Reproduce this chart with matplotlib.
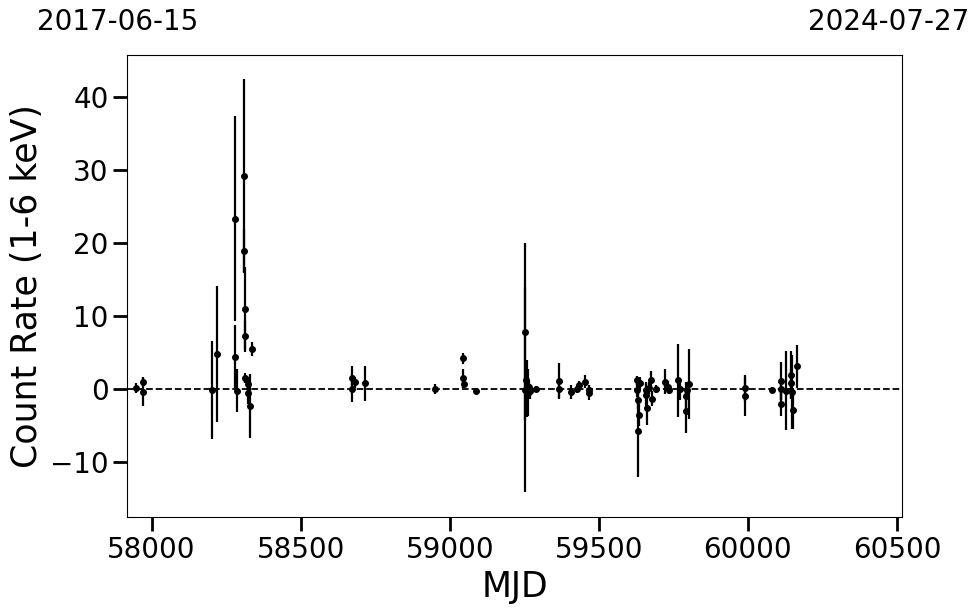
import numpy as np
import matplotlib.pyplot as plt

# data
mjd = np.array([57948, 57973, 57973,
                58204, 58221, 58281, 58281, 58286, 58310, 58311, 58313, 58313, 58337, 58313, 58322, 58322, 58331,
                58671, 58671, 58682, 58715,
                58951, 59045, 59045, 59048, 59087,
                59252, 59252, 59257, 59258, 59262, 59266, 59270, 59291,
                59367, 59367, 59408, 59428, 59433, 59453, 59467, 59467,
                59629, 59629, 59631, 59634, 59631, 59637, 59660, 59663, 59660, 59668, 59676, 59680, 59693,
                59721, 59732, 59735, 59765, 59771, 59791, 59795, 59801, 59794,
                59989, 59989, 60080, 60112, 60112, 60110, 60129, 60146, 60146, 60149, 60153, 60164])
rate = np.array([0.1, 1.0, -0.4,
                 -0.1, 4.8, 23.3, 4.4, -0.2, 29.2, 18.9, 10.9, 7.3, 5.5, 1.5, 0.7, -0.6, -2.3,
                 1.5, 0.0, 0.9, 0.8,
                 0.05, 4.2, 1.5, 0.7, -0.2,
                 7.8, -0.1, 1.3, 0.1, -0.5, 0.3, -0.3, 0.05,
                 1.1, 0.0, -0.4, 0.0, 0.5, 1.0, -0.1, -0.5,
                 1.2, -0.1, -1.5, -3.6, -5.7, 0.8, -0.1, -2.6, -0.8, 0.1, 1.3, -1.3, 0.0,
                 1.0, 0.3, -0.1, 1.2, 0.0, -3.0, -0.1, 0.7, -1.0,
                 0.1, -1.0, -0.1, 1.1, 0.0, -2.0, -0.2, 1.9, 0.8, -0.4, -2.9, 3.1])
err = np.array([0.7, 0.7, 1.9,
                6.7, 9.3, 14.0, 4.3, 3.0, 13.2, 3.0, 5.8, 2.0, 1.0, 0.7, 1.0, 1.5, 4.4,
                1.6, 1.7, 0.8, 2.4,
                0.7, 0.8, 1.3, 0.5, 0.3,
                12.2, 14.0, 2.7, 3.9, 3.2, 1.0, 1.0, 0.4,
                2.4, 1.2, 1.0, 0.6, 0.6, 0.9, 0.6, 1.0,
                0.6, 1.0, 1.2, 1.5, 6.3, 0.8, 1.0, 2.3, 1.5, 0.8, 1.2, 1.0, 0.5,
                1.7, 0.8, 0.6, 5.0, 1.5, 3.0, 1.0, 4.8, 2.0,
                1.8, 2.7, 0.4, 2.6, 1.5, 1.7, 5.4, 3.3, 2.0, 5.0, 2.6, 2.9])

t_start = "2017-06-15"
t_end = "2024-07-27"

fig = plt.figure(figsize=(9.8, 6.13), dpi=100)
ax = fig.add_axes([0.13, 0.156, 0.7907, 0.7543])

ax.axhline(0, color="black", ls="--", lw=1.3, zorder=1)
ax.errorbar(mjd, rate, yerr=err, fmt="o", color="black", ms=4, elinewidth=1.6, capsize=0, zorder=2)

ax.set_xlim(57919, 60518)
ax.set_ylim(-17.55, 45.7)
ax.set_xticks([58000, 58500, 59000, 59500, 60000, 60500])
ax.set_yticks([-10, 0, 10, 20, 30, 40])
ax.tick_params(labelsize=20, length=10, width=2)
ax.set_xlabel("MJD", fontsize=25)
ax.set_ylabel("Count Rate (1-6 keV)", fontsize=25)

fig.text(118/980, 1-22/613, t_start, fontsize=20, ha="center", va="center")
fig.text(889/980, 1-22/613, t_end, fontsize=20, ha="center", va="center")

fig.savefig("out.png", dpi=100)
